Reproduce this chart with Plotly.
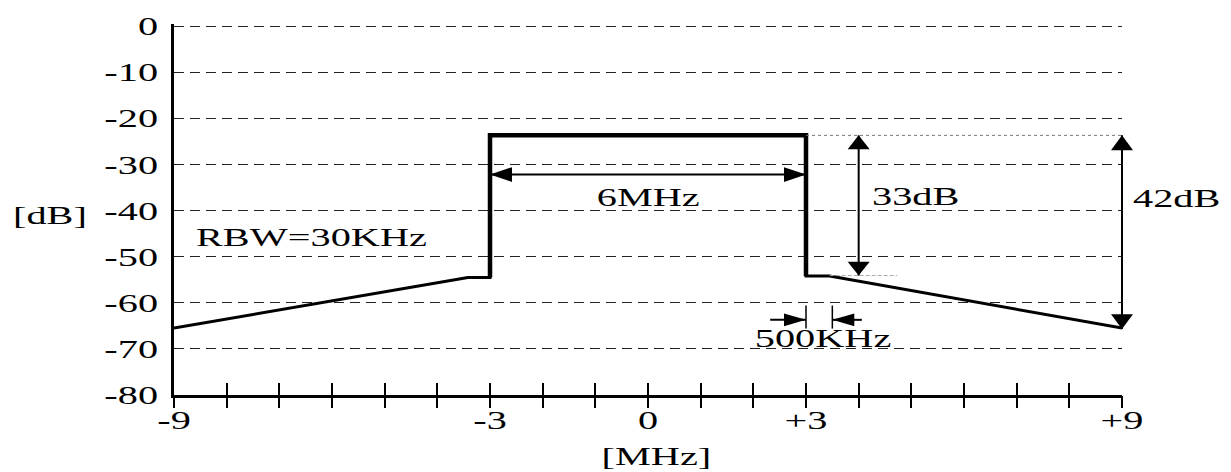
import plotly.graph_objects as go

# ---------------- data ----------------
freq_mhz = [-9, -3.42, -3, -3, 3, 3, 3.45, 9]
level_db = [-65.5, -54.5, -54.5, -23.7, -23.7, -54.2, -54.2, -65.5]
edge_freq = [-3, -3, 3, 3]
edge_level = [-54.5, -23.7, -23.7, -54.2]

x_tick_vals = list(range(-9, 10))
x_tick_named = {-9: "-9", -3: "-3", 0: "0", 3: "+3", 9: "+9"}
x_tick_text = [x_tick_named.get(v, "") for v in x_tick_vals]
y_tick_vals = [0, -10, -20, -30, -40, -50, -60, -70, -80]
y_tick_text = ["0", "-10", "-20", "-30", "-40", "-50", "-60", "-70", "-80"]

top_level = -23.7
floor_level = -54.1
edge_low = -65.5
bw_arrow_level = -32.2
d33_freq = 4.0
d42_freq = 9.0
khz_marks = [3.0, 3.5]
khz_mark_levels = [-60.6, -65.6]
khz_arrow_level = -63.7
khz_arrow_tails = [2.32, 4.06]
ref_line_end = 4.73

labels = [
    # text, x, y, anchor
    ("6MHz", 0.0, -37.1, "center"),
    ("33dB", 4.22, -36.9, "left"),
    ("42dB", 9.17, -37.4, "left"),
    ("RBW=30KHz", -8.62, -45.8, "left"),
    ("500KHz", 3.33, -67.7, "center"),
]

# ---------------- layout geometry ----------------
W, H = 1231, 472
ML, MR, MT, MB = 174, 109, 19, 77
PW, PH = W - ML - MR, H - MT - MB
X_RANGE = [-9, 9]
Y_RANGE = [-80, 0.45]
FONT = "Liberation Serif"


def xp(x):
    return (x - X_RANGE[0]) / (X_RANGE[1] - X_RANGE[0])


def yp(y):
    return (y - Y_RANGE[0]) / (Y_RANGE[1] - Y_RANGE[0])


def head(tx, ty, direction, length, width):
    X, Y = xp(tx), yp(ty)
    lx, ly = length / PW, length / PH
    wx, wy = width / 2 / PW, width / 2 / PH
    if direction == "right":
        pts = [(X, Y), (X - lx, Y + wy), (X - lx, Y - wy)]
    elif direction == "left":
        pts = [(X, Y), (X + lx, Y + wy), (X + lx, Y - wy)]
    elif direction == "up":
        pts = [(X, Y), (X - wx, Y - ly), (X + wx, Y - ly)]
    else:
        pts = [(X, Y), (X - wx, Y + ly), (X + wx, Y + ly)]
    path = "M {} {} L {} {} L {} {} Z".format(*[c for p in pts for c in p])
    return dict(type="path", xref="paper", yref="paper", path=path,
                fillcolor="black", line=dict(width=0), layer="above")


def seg(x0, y0, x1, y1, width=2, color="black", dash="solid"):
    return dict(type="line", xref="paper", yref="paper",
                x0=xp(x0), y0=yp(y0), x1=xp(x1), y1=yp(y1),
                line=dict(color=color, width=width, dash=dash), layer="above")


fig = go.Figure()

fig.add_trace(go.Scatter(x=freq_mhz, y=level_db, mode="lines",
                         line=dict(color="black", width=3), hoverinfo="skip"))
fig.add_trace(go.Scatter(x=edge_freq, y=edge_level, mode="lines",
                         line=dict(color="black", width=4.5), hoverinfo="skip"))
# invisible trace on overlay axis so it renders
fig.add_trace(go.Scatter(x=[X_RANGE[0]], y=[Y_RANGE[0]], xaxis="x2", mode="markers",
                         marker=dict(opacity=0), hoverinfo="skip"))

shapes = []
# reference lines
shapes.append(seg(3, top_level, 9, top_level, width=1, color="#777", dash="dot"))
shapes.append(seg(3.45, floor_level, ref_line_end, floor_level, width=1, color="#aaa", dash="4px,2px"))
# 6 MHz double arrow
shapes.append(seg(-3, bw_arrow_level, 3, bw_arrow_level, width=2))
shapes.append(head(-3, bw_arrow_level, "left", 22, 15))
shapes.append(head(3, bw_arrow_level, "right", 22, 15))
# 33 dB arrow
shapes.append(seg(d33_freq, top_level, d33_freq, floor_level, width=2))
shapes.append(head(d33_freq, top_level, "up", 14, 22))
shapes.append(head(d33_freq, floor_level, "down", 14, 22))
# 42 dB arrow
shapes.append(seg(d42_freq, top_level, d42_freq, edge_low - 0.2, width=2))
shapes.append(head(d42_freq, top_level, "up", 15, 22))
shapes.append(head(d42_freq, edge_low - 0.2, "down", 15, 22))
# 500 kHz markers
for xm in khz_marks:
    shapes.append(seg(xm, khz_mark_levels[0], xm, khz_mark_levels[1], width=1.5))
shapes.append(seg(khz_arrow_tails[0], khz_arrow_level, khz_marks[0], khz_arrow_level, width=2))
shapes.append(head(khz_marks[0], khz_arrow_level, "right", 22, 13))
shapes.append(seg(khz_arrow_tails[1], khz_arrow_level, khz_marks[1], khz_arrow_level, width=2))
shapes.append(head(khz_marks[1], khz_arrow_level, "left", 22, 13))

annotations = []
for text, x, y, anc in labels:
    annotations.append(dict(text=text, x=xp(x), y=yp(y), xref="paper", yref="paper",
                            xanchor=anc, yanchor="middle", align=anc, showarrow=False,
                            font=dict(family=FONT, size=26, color="black")))
# axis titles (horizontal)
annotations.append(dict(text="[dB]", x=(11 - ML) / PW, y=(H - MB - 213) / PH,
                        xref="paper", yref="paper", xanchor="left", align="left",
                        yanchor="middle", showarrow=False,
                        font=dict(family=FONT, size=26, color="black")))
annotations.append(dict(text="[MHz]", x=(656 - ML) / PW, y=(H - MB - 457) / PH,
                        xref="paper", yref="paper", xanchor="center", align="center",
                        yanchor="middle", showarrow=False,
                        font=dict(family=FONT, size=26, color="black")))

fig.update_layout(
    width=W, height=H, autosize=False,
    margin=dict(l=ML, r=MR, t=MT, b=MB, pad=0),
    paper_bgcolor="white", plot_bgcolor="white",
    showlegend=False,
    font=dict(family=FONT, size=26, color="black"),
    shapes=shapes, annotations=annotations,
    xaxis=dict(range=X_RANGE, tickmode="array", tickvals=x_tick_vals, ticktext=x_tick_text,
               ticks="inside", ticklen=12, tickwidth=2, tickcolor="black",
               showline=True, linewidth=2.5, linecolor="black", showgrid=False,
               zeroline=False, tickfont=dict(family=FONT, size=26, color="black")),
    xaxis2=dict(range=X_RANGE, overlaying="x", anchor="y", side="bottom",
                tickmode="array", tickvals=x_tick_vals, showticklabels=False,
                ticks="outside", ticklen=12, tickwidth=2, tickcolor="black",
                showline=False, showgrid=False, zeroline=False),
    yaxis=dict(range=Y_RANGE, tickmode="array", tickvals=y_tick_vals, ticktext=y_tick_text,
               ticks="", showline=True, linewidth=2.5, linecolor="black",
               showgrid=True, gridcolor="#222", gridwidth=1.4, griddash="10px,6px",
               zeroline=False, tickfont=dict(family=FONT, size=26, color="black"),
               ticklabelstandoff=8),
)

post = """
document.documentElement.style.margin = '0';
document.body.style.margin = '0';
document.body.style.padding = '0';
var gd = document.getElementById('{plot_id}');
var s = 1.55;
gd.querySelectorAll('svg text').forEach(function(t){
  if (!t.textContent) return;
  var x = parseFloat(t.getAttribute('x')) || 0;
  var y = parseFloat(t.getAttribute('y')) || 0;
  var tr = t.getAttribute('transform') || '';
  t.setAttribute('transform', tr + ' translate(' + x + ',' + y + ') scale(' + s + ',1) translate(' + (-x) + ',' + (-y) + ')');
});
"""

fig.write_html("out.html", config={"displayModeBar": False}, post_script=post)
